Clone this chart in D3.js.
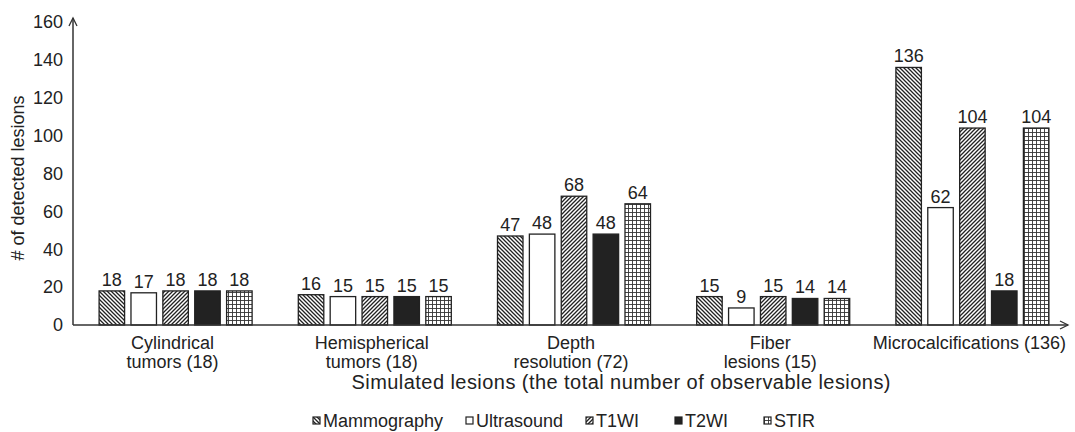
<!DOCTYPE html>
<html>
<head>
<meta charset="utf-8">
<script src="https://cdn.jsdelivr.net/npm/d3@7"></script>
<style>
  body { margin: 0; background: #fff; }
  text { font-family: "Liberation Sans", Arial, sans-serif; fill: #222; }
</style>
</head>
<body>
<svg id="chart" width="1075" height="432"></svg>
<script>
var width = 1075, height = 432;

// data
var categories = [
  ["Cylindrical", "tumors (18)"],
  ["Hemispherical", "tumors (18)"],
  ["Depth", "resolution (72)"],
  ["Fiber", "lesions (15)"],
  ["Microcalcifications (136)"]
];
var seriesNames = ["Mammography", "Ultrasound", "T1WI", "T2WI", "STIR"];
var mammography = [18, 16, 47, 15, 136];
var ultrasound  = [17, 15, 48, 9, 62];
var t1wi        = [18, 15, 68, 15, 104];
var t2wi        = [18, 15, 48, 14, 18];
var stir        = [18, 15, 64, 14, 104];
var yTicks = [0, 20, 40, 60, 80, 100, 120, 140, 160];

var series = [mammography, ultrasound, t1wi, t2wi, stir];
var fills = ["url(#pMammo)", "#fff", "url(#pT1)", "#222", "url(#pStir)"];
var legendX = [313, 466, 586, 675, 764];
var fs = 18;

function draw()
{
    var svg = d3.select("svg"),
        left = 73, right = 1069, base = 325, top = 22;

    var defs = svg.append("defs");
    // down-right hatching
    var p1 = defs.append("pattern").attr("id", "pMammo").attr("patternUnits", "userSpaceOnUse")
      .attr("width", 4).attr("height", 4);
    p1.append("rect").attr("width", 4).attr("height", 4).attr("fill", "#fff");
    p1.append("path").attr("d", "M-1,-1L5,5M-1,3L1,5M3,-1L5,1")
      .attr("stroke", "#222").attr("stroke-width", 1.3);
    // up-right hatching
    var p2 = defs.append("pattern").attr("id", "pT1").attr("patternUnits", "userSpaceOnUse")
      .attr("width", 4).attr("height", 4);
    p2.append("rect").attr("width", 4).attr("height", 4).attr("fill", "#fff");
    p2.append("path").attr("d", "M-1,5L5,-1M-1,1L1,-1M3,5L5,3")
      .attr("stroke", "#222").attr("stroke-width", 1.3);
    // grid
    var p3 = defs.append("pattern").attr("id", "pStir").attr("patternUnits", "userSpaceOnUse")
      .attr("width", 4).attr("height", 4);
    p3.append("rect").attr("width", 4).attr("height", 4).attr("fill", "#fff");
    p3.append("path").attr("d", "M0,0.5H4M0.5,0V4")
      .attr("stroke", "#333").attr("stroke-width", 0.9);

    var x0 = d3.scaleBand().domain(d3.range(categories.length)).range([left, right]),
        x1 = d3.scaleBand().domain(d3.range(series.length)).range([0, 153]).paddingInner(0.2),
        y = d3.scaleLinear().domain([0, 160]).range([base, top]);

    var groupOff = (x0.bandwidth() - 153) / 2 + 3;

    // bars
    series.forEach(function(vals, s) {
      var g = svg.append("g");
      g.selectAll("rect").data(vals).enter().append("rect")
        .attr("x", function(d, i) { return x0(i) + groupOff + x1(s); })
        .attr("y", function(d) { return y(d); })
        .attr("width", x1.bandwidth())
        .attr("height", function(d) { return base - y(d); })
        .attr("fill", fills[s])
        .attr("stroke", "#222")
        .attr("stroke-width", 1.3);
      g.selectAll("text").data(vals).enter().append("text")
        .attr("x", function(d, i) { return x0(i) + groupOff + x1(s) + x1.bandwidth() / 2; })
        .attr("y", function(d) { return y(d) - 5; })
        .attr("text-anchor", "middle")
        .attr("font-size", fs)
        .text(function(d) { return d; });
    });

    // y axis
    var yAxis = d3.axisLeft(y).tickValues(yTicks).tickSize(0).tickPadding(10);
    var ga = svg.append("g").attr("transform", "translate(" + left + ",0)").call(yAxis);
    ga.select(".domain").remove();
    ga.selectAll("text").attr("font-size", fs).style("font-family", "'Liberation Sans', Arial, sans-serif").attr("fill", "#222");

    svg.append("line").attr("x1", left).attr("x2", left).attr("y1", base).attr("y2", 18)
      .attr("stroke", "#333").attr("stroke-width", 1.5);
    svg.append("path").attr("d", "M" + (left - 4) + ",26L" + left + ",18L" + (left + 4) + ",26")
      .attr("fill", "none").attr("stroke", "#333").attr("stroke-width", 1.3);

    // x axis
    svg.append("line").attr("x1", left).attr("x2", 1068).attr("y1", base).attr("y2", base)
      .attr("stroke", "#333").attr("stroke-width", 1.5);
    svg.append("path").attr("d", "M1060," + (base - 4) + "L1068," + base + "L1060," + (base + 4))
      .attr("fill", "none").attr("stroke", "#333").attr("stroke-width", 1.3);

    categories.forEach(function(lines, i) {
      var t = svg.append("text")
        .attr("x", x0(i) + x0.bandwidth() / 2)
        .attr("y", 349)
        .attr("text-anchor", "middle")
        .attr("font-size", fs);
      lines.forEach(function(l, k) {
        t.append("tspan").attr("x", x0(i) + x0.bandwidth() / 2).attr("dy", k ? 19 : 0).text(l);
      });
    });

    svg.append("text").attr("x", 621).attr("y", 389).attr("text-anchor", "middle")
      .attr("font-size", 20).attr("textLength", 539).attr("lengthAdjust", "spacing")
      .text("Simulated lesions (the total number of observable lesions)");

    svg.append("text").attr("transform", "translate(24,178) rotate(-90)")
      .attr("text-anchor", "middle").attr("font-size", fs).text("# of detected lesions");

    // legend
    seriesNames.forEach(function(n, s) {
      svg.append("rect").attr("x", legendX[s]).attr("y", 417).attr("width", 7).attr("height", 7)
        .attr("fill", fills[s]).attr("stroke", "#222").attr("stroke-width", 1.2);
      svg.append("text").attr("x", legendX[s] + 10).attr("y", 427)
        .attr("font-size", fs).text(n);
    });
}
draw();
</script>
</body>
</html>
